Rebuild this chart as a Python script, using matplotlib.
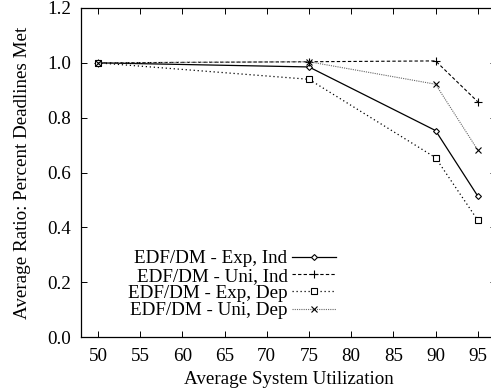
import matplotlib
matplotlib.use("Agg")
import matplotlib.pyplot as plt

plt.rcParams["font.family"] = ["Liberation Serif", "DejaVu Serif"]
plt.rcParams["font.size"] = 13.7

# utilization levels (%)
utilization = [50, 75, 90, 95]

# average ratio of deadlines met
exp_ind = [1.0, 0.985, 0.753, 0.514]
uni_ind = [1.0, 1.004, 1.007, 0.858]
exp_dep = [1.0, 0.940, 0.654, 0.426]
uni_dep = [1.0, 1.004, 0.922, 0.682]

labels = ["EDF/DM - Exp, Ind", "EDF/DM - Uni, Ind",
          "EDF/DM - Exp, Dep", "EDF/DM - Uni, Dep"]

fig = plt.figure(figsize=(4.91, 3.88), dpi=100)
ax = fig.add_axes([0.165, 0.1314, 0.845, 0.848])

ax.plot(utilization, exp_ind, color="black", lw=0.9, marker="D", ms=3.0,
        mfc="white", mew=0.8, label=labels[0])
ax.plot(utilization, uni_ind, color="black", lw=0.8, ls=(0, (3, 2)), marker="+",
        ms=5.5, mew=0.8, label=labels[1])
ax.plot(utilization, exp_dep, color="black", lw=0.9, ls=(0, (1, 2.2)), marker="s",
        ms=3.8, mfc="white", mew=0.8, label=labels[2])
ax.plot(utilization, uni_dep, color="0.4", lw=0.8, ls=(0, (1, 1)), marker="x",
        ms=4.0, mew=0.8, mec="black", label=labels[3])

ax.set_xlim(48, 97.15)
ax.set_ylim(0, 1.2)
ax.set_xticks(range(50, 96, 5))
ax.set_yticks([0.0, 0.2, 0.4, 0.6, 0.8, 1.0, 1.2])
ax.set_yticklabels(["0.0", "0.2", "0.4", "0.6", "0.8", "1.0", "1.2"])
ax.tick_params(direction="in", top=True, right=True, length=4, width=0.7)
ax.tick_params(axis="x", pad=8)
ax.tick_params(axis="y", pad=7)
for s in ax.spines.values():
    s.set_linewidth(0.9)

ax.set_xlabel("Average System Utilization", labelpad=4)
ax.set_ylabel("Average Ratio: Percent Deadlines Met", labelpad=11.5)

leg = ax.legend(loc="upper right", bbox_to_anchor=(336 / 491, 1 - 250 / 388),
                bbox_transform=fig.transFigure, frameon=False, markerfirst=False,
                handlelength=2.3, handletextpad=0.25, labelspacing=0.0,
                borderpad=0, borderaxespad=0)

fig.savefig("out.png", dpi=100)
